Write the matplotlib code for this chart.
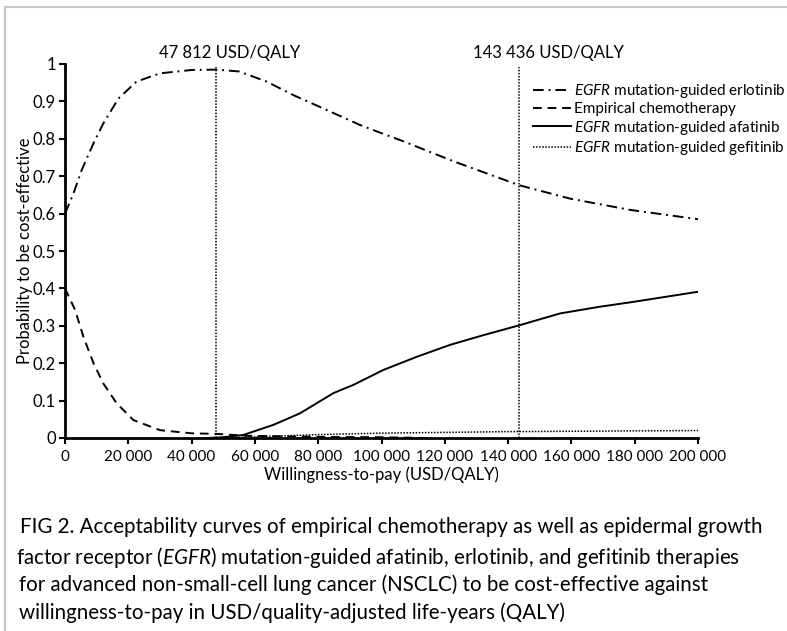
import matplotlib
matplotlib.use("Agg")
import matplotlib.pyplot as plt
from matplotlib.lines import Line2D

plt.rcParams['font.family'] = ['Lato', 'DejaVu Sans']
plt.rcParams['mathtext.fontset'] = 'custom'
plt.rcParams['mathtext.rm'] = 'Lato'
plt.rcParams['mathtext.it'] = 'Lato:italic'

# ---- data ----
wtp_erl = [0, 2500, 5300, 9000, 12100, 16900, 22600, 30000, 40000, 47812, 55000,
           63700, 72100, 82700, 93200, 100000, 107000, 122700, 143436, 159600, 178500, 200000]
p_erl = [0.600, 0.650, 0.717, 0.788, 0.841, 0.908, 0.953, 0.975, 0.984, 0.985, 0.980,
         0.953, 0.917, 0.877, 0.837, 0.815, 0.793, 0.740, 0.676, 0.640, 0.610, 0.585]

wtp_chemo = [0, 3200, 5800, 9000, 12100, 16300, 21600, 30000, 40000, 47812, 57400, 80000, 100000, 115000]
p_chemo = [0.400, 0.342, 0.271, 0.200, 0.146, 0.093, 0.048, 0.021, 0.0125, 0.011, 0.006, 0.003, 0.002, 0.0]

wtp_afa = [45000, 50000, 56300, 65800, 74250, 84800, 91100, 100600, 111100, 121650,
           132200, 143800, 156400, 169000, 179600, 200000]
p_afa = [0.0, 0.002, 0.008, 0.035, 0.066, 0.120, 0.142, 0.182, 0.217, 0.249,
         0.275, 0.302, 0.333, 0.351, 0.364, 0.391]

wtp_gef = [50000, 60000, 70000, 80000, 100000, 120000, 140000, 160000, 180000, 200000]
p_gef = [0.0, 0.003, 0.006, 0.009, 0.013, 0.015, 0.017, 0.018, 0.019, 0.020]

thresholds = [47812, 143436]
threshold_labels = ['47 812 USD/QALY', '143 436 USD/QALY']

x_ticks = [0, 20000, 40000, 60000, 80000, 100000, 120000, 140000, 160000, 180000, 200000]
x_ticklabels = ['0', '20 000', '40 000', '60 000', '80 000', '100 000', '120 000',
                '140 000', '160 000', '180 000', '200 000']
y_ticks = [0, 0.1, 0.2, 0.3, 0.4, 0.5, 0.6, 0.7, 0.8, 0.9, 1.0]
y_ticklabels = ['0', '0.1', '0.2', '0.3', '0.4', '0.5', '0.6', '0.7', '0.8', '0.9', '1']

labels = [r'$\mathit{EGFR}$ mutation-guided erlotinib',
          'Empirical chemotherapy',
          r'$\mathit{EGFR}$ mutation-guided afatinib',
          r'$\mathit{EGFR}$ mutation-guided gefitinib']

caption_lines = [
    "FIG 2. Acceptability curves of empirical chemotherapy as well as epidermal growth",
    r"factor receptor ($\mathit{EGFR}$) mutation-guided afatinib, erlotinib, and gefitinib therapies",
    "for advanced non-small-cell lung cancer (NSCLC) to be cost-effective against",
    "willingness-to-pay in USD/quality-adjusted life-years (QALY)",
]

# ---- figure ----
W, H = 787, 631
fig = plt.figure(figsize=(W / 100, H / 100), dpi=100)
fig.patch.set_facecolor('white')

ax = fig.add_axes([65 / W, 1 - 438 / H, (698 - 65) / W, (438 - 64) / H])
ax.set_xlim(0, 200000)
ax.set_ylim(0, 1)

lw = 1.4
h1, = ax.plot(wtp_erl, p_erl, color='black', lw=lw, linestyle=(0, (5.5, 2.5, 1, 2.5)))
h2, = ax.plot(wtp_chemo, p_chemo, color='black', lw=lw, linestyle=(0, (4.5, 3)))
h3, = ax.plot(wtp_afa, p_afa, color='black', lw=lw, linestyle='-')
h4, = ax.plot(wtp_gef, p_gef, color='black', lw=1.1, linestyle=(0, (1, 1)))

for t in thresholds:
    ax.plot([t, t], [0, 0.993], color='black', lw=1.1, linestyle=(0, (1, 1)))

ax.text(52100, 1.03, threshold_labels[0], ha='center', va='center', fontsize=12)
ax.text(152600, 1.03, threshold_labels[1], ha='center', va='center', fontsize=12)

for s in ['top', 'right']:
    ax.spines[s].set_visible(False)
for s in ['left', 'bottom']:
    ax.spines[s].set_linewidth(2)
ax.set_xticks(x_ticks)
ax.set_xticklabels(x_ticklabels)
ax.set_yticks(y_ticks)
ax.set_yticklabels(y_ticklabels)
ax.tick_params(direction='out', length=4, width=1.5)
ax.tick_params(axis='x', pad=4.5, labelsize=11)
ax.tick_params(axis='y', pad=2.5, labelsize=12)
ax.set_xlabel('Willingness-to-pay (USD/QALY)', fontsize=12, labelpad=2)
ax.set_ylabel('Probability to be cost-effective', fontsize=12, labelpad=0)

leg = fig.legend([h1, h2, h3, h4], labels, loc='upper left',
                 bbox_to_anchor=(533 / W, 1 - 82 / H), frameon=False,
                 fontsize=11, handlelength=2.5, handletextpad=0.2,
                 labelspacing=0.15, borderaxespad=0, borderpad=0)

cap_y = [525, 554, 583, 611]
cap_x = [20, 16, 19, 19]
for xx, yy, line in zip(cap_x, cap_y, caption_lines):
    fig.text(xx / W, 1 - yy / H, line, ha='left', va='center_baseline', fontsize=14.8)

# light border of the figure panel
fig.add_artist(Line2D([5 / W, 1], [1 - 7 / H, 1 - 7 / H], color='#c8c8c8', lw=1.5))
fig.add_artist(Line2D([5 / W, 5 / W], [0, 1 - 7 / H], color='#c8c8c8', lw=1.5))

fig.savefig('out.png', dpi=100)
